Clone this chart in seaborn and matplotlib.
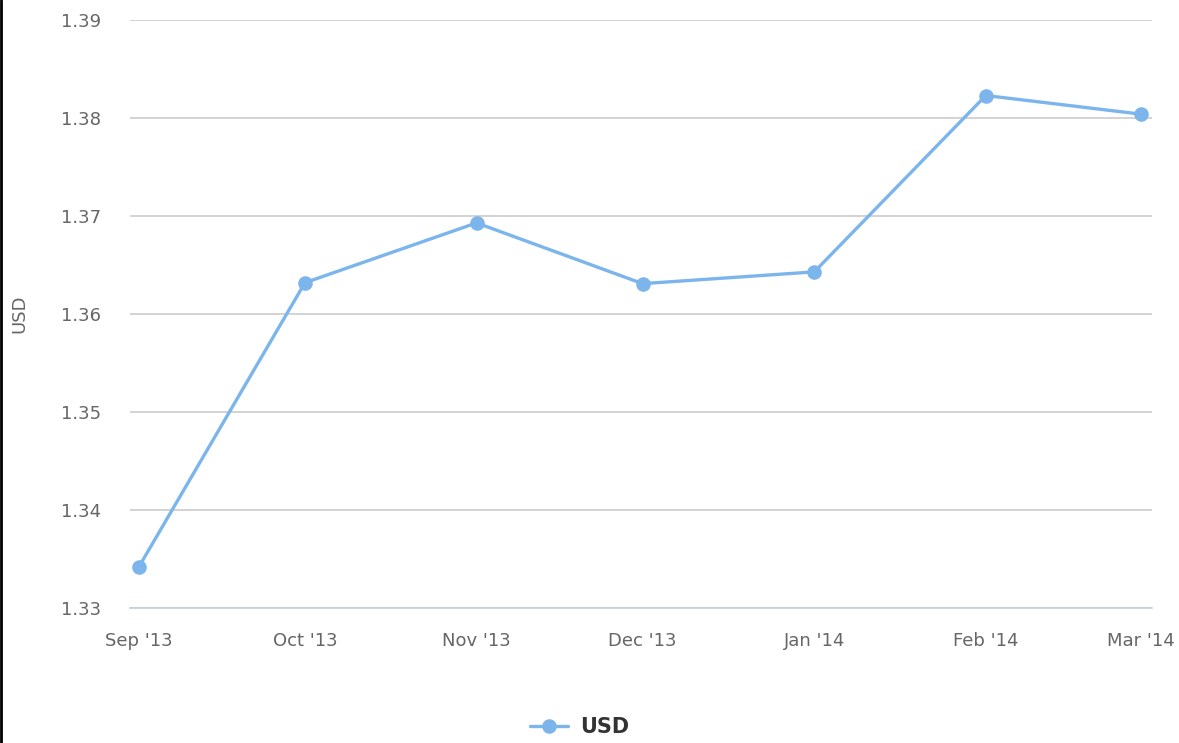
import matplotlib
matplotlib.use('Agg')
import matplotlib.pyplot as plt
import matplotlib.dates as mdates
from matplotlib.lines import Line2D
import seaborn as sns
import pandas as pd

months = ['2013-09-01', '2013-10-01', '2013-11-01', '2013-12-01',
          '2014-01-01', '2014-02-01', '2014-03-01']
usd = [1.3342, 1.3632, 1.3693, 1.3631, 1.3643, 1.3823, 1.3804]
y_ticks = [1.33, 1.34, 1.35, 1.36, 1.37, 1.38, 1.39]

data = pd.DataFrame({'Month': pd.to_datetime(months), 'USD': usd})

sns.set_style('white')
plt.rcParams['font.family'] = ['DejaVu Sans']

fig = plt.figure(figsize=(11.79, 7.43), dpi=100)
ax = fig.add_axes([0.1103, 0.1817, 0.8667, 0.7913])

sns.lineplot(x='Month', y='USD', data=data, ax=ax, color='#7cb5ec',
             linewidth=2.4, marker='o', markersize=10.5, markeredgewidth=0,
             label='USD')

ax.set_ylim(1.33, 1.39)
ax.set_yticks(y_ticks)
ax.set_yticklabels([f'{v:.2f}' for v in y_ticks])
ax.set_xlim(data['Month'].iloc[0] - pd.Timedelta(days=1.6),
            data['Month'].iloc[-1] + pd.Timedelta(days=2))
ax.set_xticks(data['Month'])
ax.xaxis.set_major_formatter(mdates.DateFormatter("%b '%y"))

ax.grid(axis='y', color='#cccccc', linewidth=1.2)
ax.set_axisbelow(True)
for side in ['top', 'right', 'left']:
    ax.spines[side].set_visible(False)
ax.spines['bottom'].set_color('#c0d0e0')
ax.spines['bottom'].set_linewidth(1.2)

ax.tick_params(axis='y', length=0, pad=21, labelsize=13, labelcolor='#666666')
ax.tick_params(axis='x', length=8, width=1.2, color='#c0d0e0', pad=9,
               labelsize=13, labelcolor='#666666')

ax.set_xlabel('')
ax.set_ylabel('USD', fontsize=13, color='#666666', labelpad=23)

leg = ax.legend(loc='center', bbox_to_anchor=(0.44, -0.203), frameon=False,
                handlelength=1.8, handletextpad=0.6, prop={'size': 15, 'weight': 'bold'})
for t in leg.get_texts():
    t.set_color('#333333')

fig.add_artist(Line2D([0.001, 0.001], [0, 1], color='black', linewidth=2,
                      transform=fig.transFigure))

plt.savefig('out.png', dpi=100)
